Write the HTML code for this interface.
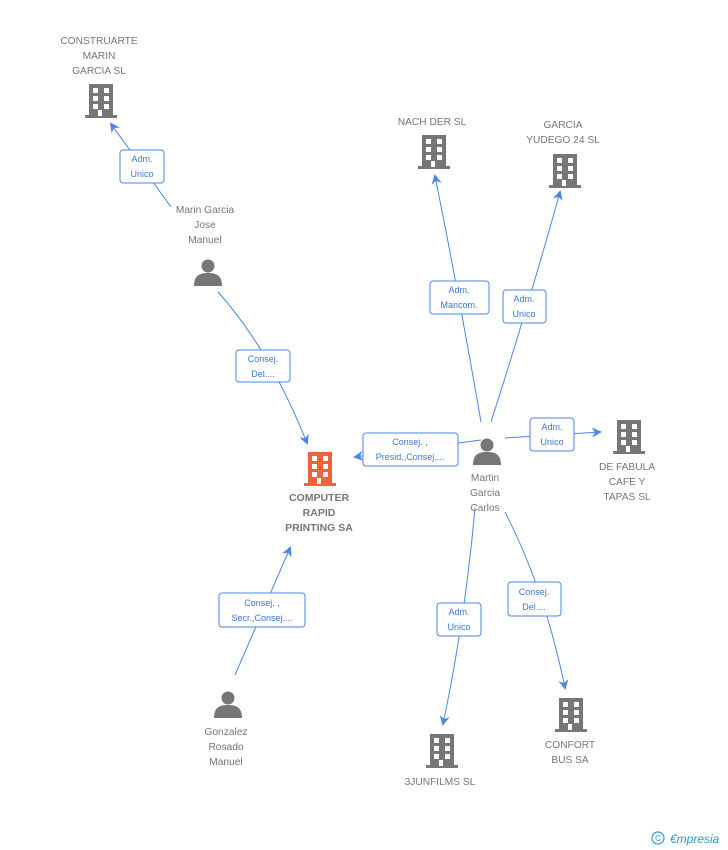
<!DOCTYPE html>
<html><head><meta charset="utf-8"><style>
body{margin:0;background:#fff;}
svg{display:block;font-family:"Liberation Sans",sans-serif;}
.l{fill:#767676;font-size:10.2px;text-anchor:middle;}
.b{fill:#767676;font-size:10.5px;font-weight:bold;text-anchor:middle;}
.bx{fill:#fff;stroke:#4a86e8;stroke-width:1;}
.bt{fill:#3a78d8;font-size:9px;text-anchor:middle;}
.ln{stroke:#4a86e8;stroke-width:1;fill:none;}
</style></head><body>
<svg width="728" height="850" viewBox="0 0 728 850">
<defs>
<g id="bld">
<rect x="-12" y="-17" width="24" height="32" fill="currentColor"/>
<rect x="-16" y="14" width="32" height="3" fill="currentColor"/>
<g fill="#fff">
<rect x="-8" y="-13" width="5" height="5"/><rect x="3" y="-13" width="5" height="5"/>
<rect x="-8" y="-5" width="5" height="5"/><rect x="3" y="-5" width="5" height="5"/>
<rect x="-8" y="3" width="5" height="5"/><rect x="3" y="3" width="5" height="5"/>
<rect x="-3" y="9" width="4" height="6"/>
</g></g>
<g id="per" fill="#767676">
<circle cx="0" cy="-6" r="6.5"/>
<path d="M-14 14 C-14 3 -8 1 0 1 C8 1 14 3 14 14 Z"/>
</g>
<marker id="ar" markerWidth="10" markerHeight="10" refX="8" refY="5" orient="auto" markerUnits="userSpaceOnUse">
<path d="M0 0 L10 5 L0 10 L3 5 Z" fill="#4a86e8"/></marker>
</defs>

<g class="ln">
<path d="M171 207 L111 124" marker-end="url(#ar)"/>
<path d="M218 292 Q270 350 307 443" marker-end="url(#ar)"/>
<path d="M481 440 L355 457" marker-end="url(#ar)"/>
<path d="M481 422 Q460 300 435 176" marker-end="url(#ar)"/>
<path d="M491 422 Q530 300 560 192" marker-end="url(#ar)"/>
<path d="M505 438 L600 432" marker-end="url(#ar)"/>
<path d="M475 508 Q465 620 443 724" marker-end="url(#ar)"/>
<path d="M505 512 Q545 590 565 688" marker-end="url(#ar)"/>
<path d="M235 675 L290 548" marker-end="url(#ar)"/>
</g>

<g style="color:#767676">
<use href="#bld" x="101" y="101"/>
<use href="#bld" x="434" y="152"/>
<use href="#bld" x="565" y="171"/>
<use href="#bld" x="629" y="437"/>
<use href="#bld" x="442" y="751"/>
<use href="#bld" x="571" y="715"/>
</g>
<use href="#bld" x="320" y="469" style="color:#f4623a"/>
<use href="#per" x="208" y="272"/>
<use href="#per" x="487" y="451"/>
<use href="#per" x="228" y="704"/>

<text class="l" x="99" y="44">CONSTRUARTE</text>
<text class="l" x="99" y="59">MARIN</text>
<text class="l" x="99" y="74">GARCIA SL</text>
<text class="l" x="432" y="125">NACH DER  SL</text>
<text class="l" x="563" y="128">GARCIA</text>
<text class="l" x="563" y="143">YUDEGO 24 SL</text>
<text class="l" x="627" y="470">DE FABULA</text>
<text class="l" x="627" y="485">CAFE Y</text>
<text class="l" x="627" y="500">TAPAS SL</text>
<text class="b" x="319" y="501">COMPUTER</text>
<text class="b" x="319" y="516">RAPID</text>
<text class="b" x="319" y="531">PRINTING SA</text>
<text class="l" x="440" y="785">3JUNFILMS SL</text>
<text class="l" x="570" y="748">CONFORT</text>
<text class="l" x="570" y="763">BUS SA</text>
<text class="l" x="205" y="213">Marin Garcia</text>
<text class="l" x="205" y="228">Jose</text>
<text class="l" x="205" y="243">Manuel</text>
<text class="l" x="485" y="481">Martin</text>
<text class="l" x="485" y="496">Garcia</text>
<text class="l" x="485" y="511">Carlos</text>
<text class="l" x="226" y="735">Gonzalez</text>
<text class="l" x="226" y="750">Rosado</text>
<text class="l" x="226" y="765">Manuel</text>

<rect class="bx" x="120" y="150" width="44" height="33" rx="3"/>
<text class="bt" x="142" y="162">Adm.</text><text class="bt" x="142" y="177">Unico</text>
<rect class="bx" x="236" y="350" width="54" height="32" rx="3"/>
<text class="bt" x="263" y="362">Consej.</text><text class="bt" x="263" y="377">Del....</text>
<rect class="bx" x="363" y="433" width="95" height="33" rx="3"/>
<text class="bt" x="410" y="445">Consej. ,</text><text class="bt" x="410" y="460">Presid.,Consej....</text>
<rect class="bx" x="430" y="281" width="59" height="33" rx="3"/>
<text class="bt" x="459" y="293">Adm.</text><text class="bt" x="459" y="308">Mancom.</text>
<rect class="bx" x="503" y="290" width="43" height="33" rx="3"/>
<text class="bt" x="524" y="302">Adm.</text><text class="bt" x="524" y="317">Unico</text>
<rect class="bx" x="530" y="418" width="44" height="33" rx="3"/>
<text class="bt" x="552" y="430">Adm.</text><text class="bt" x="552" y="445">Unico</text>
<rect class="bx" x="437" y="603" width="44" height="33" rx="3"/>
<text class="bt" x="459" y="615">Adm.</text><text class="bt" x="459" y="630">Unico</text>
<rect class="bx" x="508" y="582" width="53" height="34" rx="3"/>
<text class="bt" x="534" y="595">Consej.</text><text class="bt" x="534" y="610">Del....</text>
<rect class="bx" x="219" y="593" width="86" height="34" rx="3"/>
<text class="bt" x="262" y="606">Consej. ,</text><text class="bt" x="262" y="621">Secr.,Consej....</text>

<circle cx="658" cy="838" r="6" fill="none" stroke="#2a9ad8" stroke-width="1.2"/>
<text x="658" y="841" font-size="8" fill="#2a9ad8" text-anchor="middle">C</text>
<text x="670" y="843" font-size="12" fill="#2a9ad8" font-style="italic">€mpresia</text>
</svg>
</body></html>
